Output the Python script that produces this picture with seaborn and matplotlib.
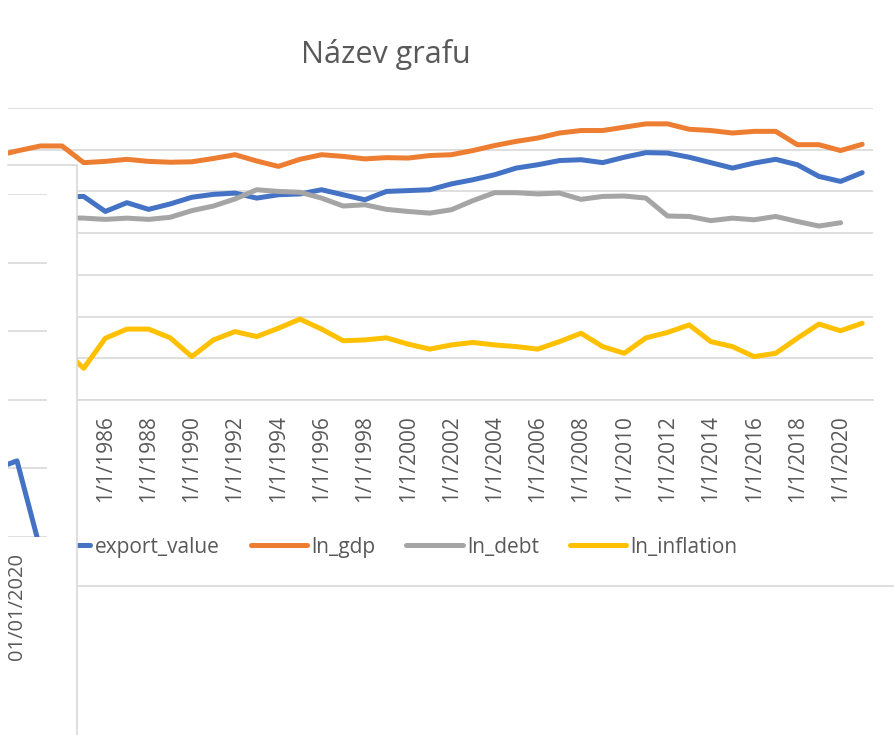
import numpy as np
import pandas as pd
import matplotlib
matplotlib.use("Agg")
import matplotlib.pyplot as plt
from matplotlib.patches import Rectangle
from matplotlib.lines import Line2D
import seaborn as sns

# data
years = list(range(1981, 2022))
nan = np.nan
export_value = [nan, nan, nan,
                4.87, 4.88, 4.52, 4.73, 4.57, 4.70, 4.86, 4.93, 4.96, 4.84,
                4.92, 4.94, 5.04, 4.92, 4.80, 5.00, 5.02, 5.04, 5.18, 5.28,
                5.40, 5.56, 5.64, 5.74, 5.76, 5.69, 5.82, 5.93, 5.92, 5.82,
                5.69, 5.56, 5.68, 5.77, 5.64, 5.36, 5.24, 5.45]
ln_gdp = [5.86, 5.98, 6.09, 6.09, 5.69, 5.72, 5.77, 5.72, 5.70, 5.71,
          5.79, 5.88, 5.73, 5.60, 5.77, 5.88, 5.84, 5.78, 5.81, 5.80,
          5.86, 5.88, 5.98, 6.10, 6.20, 6.28, 6.40, 6.46, 6.46, 6.54,
          6.62, 6.62, 6.49, 6.46, 6.40, 6.44, 6.44, 6.12, 6.12, 5.98, 6.13]
ln_debt = [nan, nan, nan,
           4.37, 4.36, 4.33, 4.36, 4.33, 4.38, 4.54, 4.65, 4.82, 5.04,
           5.00, 4.98, 4.84, 4.65, 4.68, 4.57, 4.52, 4.48, 4.56, 4.78,
           4.97, 4.97, 4.94, 4.96, 4.81, 4.88, 4.89, 4.84, 4.41, 4.40,
           4.30, 4.36, 4.32, 4.40, 4.28, 4.17, 4.25, nan]
ln_inflation = [nan, nan, nan,
                1.25, 0.76, 1.48, 1.70, 1.70, 1.49, 1.04, 1.44, 1.64, 1.52,
                1.72, 1.94, 1.70, 1.42, 1.44, 1.49, 1.34, 1.22, 1.32, 1.38,
                1.32, 1.28, 1.22, 1.40, 1.60, 1.28, 1.12, 1.49, 1.62, 1.80,
                1.40, 1.28, 1.04, 1.12, 1.48, 1.82, 1.66, 1.84]
series_names = ["export_value", "ln_gdp", "ln_debt", "ln_inflation"]
colors = ["#4472C4", "#ED7D31", "#A5A5A5", "#FFC000"]
label_years = list(range(1986, 2021, 2))
tick_labels = [f"1/1/{y}" for y in label_years]

# fragment of the chart behind (left edge)
bg_years = [2018, 2019, 2020]
bg_export = [1.0, 1.11, 0.0]

sns.set_style("white")
plt.rcParams["font.family"] = ["Open Sans", "DejaVu Sans"]
txt = "#595959"
grid = "#D9D9D9"

W, H = 894, 735
fig = plt.figure(figsize=(W / 100, H / 100), dpi=100)

def fx(px):
    return px / W

def fy(py):
    return 1 - py / H

df = pd.DataFrame({"year": years, "export_value": export_value, "ln_gdp": ln_gdp,
                   "ln_debt": ln_debt, "ln_inflation": ln_inflation})
long = df.melt(id_vars="year", var_name="series", value_name="value").dropna()

ax = fig.add_axes([fx(8), fy(400), fx(873) - fx(8), fy(108) - fy(400)])
sns.lineplot(data=long, x="year", y="value", hue="series", hue_order=series_names,
             palette=colors, linewidth=3.6, ax=ax, legend=False)
for ln in ax.lines:
    ln.set_solid_capstyle("round")
    ln.set_solid_joinstyle("round")
ax.set_xlim(1981.5, 2021.5)
ax.set_ylim(0, 7)
ax.set_yticks(range(8))
ax.set_yticklabels([])
ax.grid(axis="y", color=grid, lw=1.2)
ax.tick_params(axis="y", length=0)
for s in ["top", "left", "right"]:
    ax.spines[s].set_visible(False)
ax.spines["bottom"].set_color(grid)
ax.spines["bottom"].set_linewidth(1.2)
ax.set_xticks(np.arange(1981.5, 2022, 2))
ax.set_xticklabels([])
ax.tick_params(axis="x", which="major", length=7, color=grid, width=1.2)
ax.set_xticks(label_years, minor=True)
ax.set_xticklabels(tick_labels, minor=True, rotation=90, color=txt, fontsize=15)
ax.tick_params(axis="x", which="minor", length=0, pad=11)
ax.set_xlabel("")
ax.set_ylabel("")

handles = [Line2D([], [], color=c, lw=3.6, solid_capstyle="round") for c in colors]
ax.legend(handles, series_names, loc="center left", bbox_to_anchor=(fx(34), fy(547)),
          bbox_transform=fig.transFigure, ncol=4, frameon=False, fontsize=15,
          handlelength=2.7, handletextpad=0.2, columnspacing=1.5,
          borderpad=0, borderaxespad=0, labelcolor=txt)

# white panel overlapping the left side
fig.add_artist(Rectangle((0, 0), fx(77), fy(165), transform=fig.transFigure,
                         facecolor="white", edgecolor="none", zorder=5))
fig.add_artist(Line2D([fx(8), fx(77)], [fy(165), fy(165)], transform=fig.transFigure,
                      color=grid, lw=1.2, zorder=6))
fig.add_artist(Line2D([fx(77), fx(77)], [fy(165), 0], transform=fig.transFigure,
                      color=grid, lw=1.2, zorder=6))
fig.add_artist(Line2D([fx(77), 1], [fy(586), fy(586)], transform=fig.transFigure,
                      color=grid, lw=1.2, zorder=6))

bg = fig.add_axes([fx(8), fy(537), fx(47) - fx(8), fy(194) - fy(537)], zorder=7)
bg.patch.set_alpha(0)
sns.lineplot(x=bg_years, y=bg_export, color=colors[0], linewidth=3.6, ax=bg)
bg.set_xlim(2018.55, 2020.5)
bg.set_ylim(0, 5)
bg.set_yticks(range(6))
bg.set_yticklabels([])
bg.grid(axis="y", color=grid, lw=1.2)
bg.tick_params(axis="y", length=0)
bg.set_xticks([2020.4])
bg.set_xticklabels([])
bg.tick_params(axis="x", length=6, color=grid, width=1.2)
for s in ["top", "left", "right", "bottom"]:
    bg.spines[s].set_visible(False)
fig.text(fx(17), fy(553), "01/01/2020", rotation=90, ha="center", va="top",
         color=txt, fontsize=14.5, zorder=8)

fig.text(fx(386), fy(55), "Název grafu", ha="center", va="center", color=txt, fontsize=22)

fig.savefig("out.png", dpi=100)
